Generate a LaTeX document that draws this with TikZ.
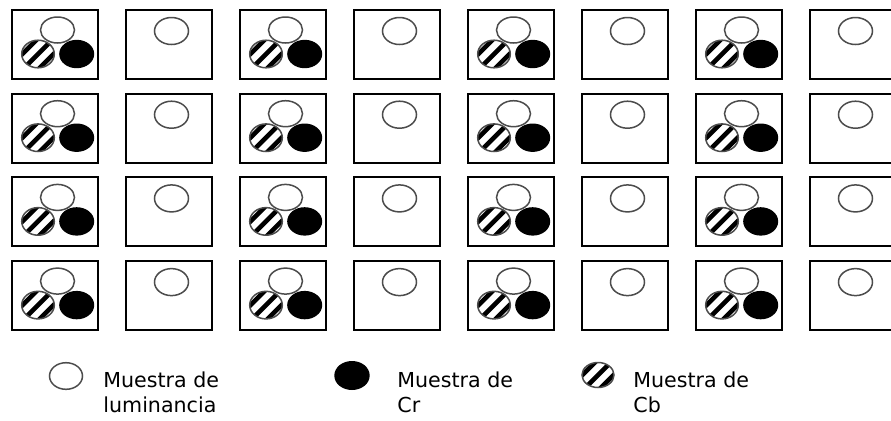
\documentclass[tikz,border=0pt]{standalone}
\usepackage{fontspec}
\setmainfont{DejaVu Sans}
\usepackage{tikz}

\begin{document}
\begin{tikzpicture}
[x = 0.5pt, y = -0.5pt,
 pixel/.style = {draw = black, line width = 1pt, fill = white},
 luma/.style = {draw = black!70, line width = 0.75pt, fill = white},
 cr/.style = {draw = black, line width = 0.7pt, fill = black},
 cb/.style = {draw = black!70, line width = 0.75pt},
 stripe/.style = {draw = black, line width = 2.3pt},
 legtext/.style = {anchor = north west, inner sep = 0pt, align = left,
                   font = \fontsize{10.3}{12.85}\selectfont}
 ]
\clip (0,0) rectangle (891,420);
\fill [white] (0,0) rectangle (891,420);
% pixels with luminance, Cr and Cb samples
\foreach \c in {0,2,4,6}
 \foreach \r in {0,...,3}
 {
  \pgfmathsetmacro\bx{12+114*\c}
  \pgfmathsetmacro\by{10+83.7*\r}
  \draw [pixel] (\bx,\by) rectangle ++ (86,69);
  \draw [luma] (\bx+45.5,\by+20) ellipse (17 and 13);
  \begin{scope}
   \fill [white] (\bx+26,\by+44) ellipse (16.3 and 13.8);
   \clip (\bx+26,\by+44) ellipse (16.3 and 13.8);
   \foreach \o in {-11,0,11}
    \draw [stripe] (\bx+26,\by+44) ++ (\o*0.707-20,\o*0.707+20) -- ++ (40,-40);
  \end{scope}
  \draw [cb] (\bx+26,\by+44) ellipse (16.3 and 13.8);
  \draw [cr] (\bx+64.7,\by+44) ellipse (16.8 and 13.5);
 }
% pixels with luminance only
\foreach \c in {1,3,5,7}
 \foreach \r in {0,...,3}
 {
  \pgfmathsetmacro\bx{12+114*\c}
  \pgfmathsetmacro\by{10+83.7*\r}
  \draw [pixel] (\bx,\by) rectangle ++ (86,69);
  \draw [luma] (\bx+45.5,\by+21) ellipse (17 and 13.5);
 }
% legend
\draw [luma] (66,376) ellipse (16.5 and 13.3);
\node [legtext] (lumatext) at (103,371) {Muestra de\\luminancia};
\draw [cr] (352,375.5) ellipse (17 and 13.8);
\node [legtext] (crtext) at (397,371) {Muestra de\\Cr};
\begin{scope}
 \clip (598,375) ellipse (16 and 12.5);
 \foreach \o in {-11,0,11}
  \draw [stripe] (598,375) ++ (\o*0.707-20,\o*0.707+20) -- ++ (40,-40);
\end{scope}
\draw [cb] (598,375) ellipse (16 and 12.5);
\node [legtext] (cbtext) at (633,371) {Muestra de\\Cb};
\end{tikzpicture}
\end{document}
